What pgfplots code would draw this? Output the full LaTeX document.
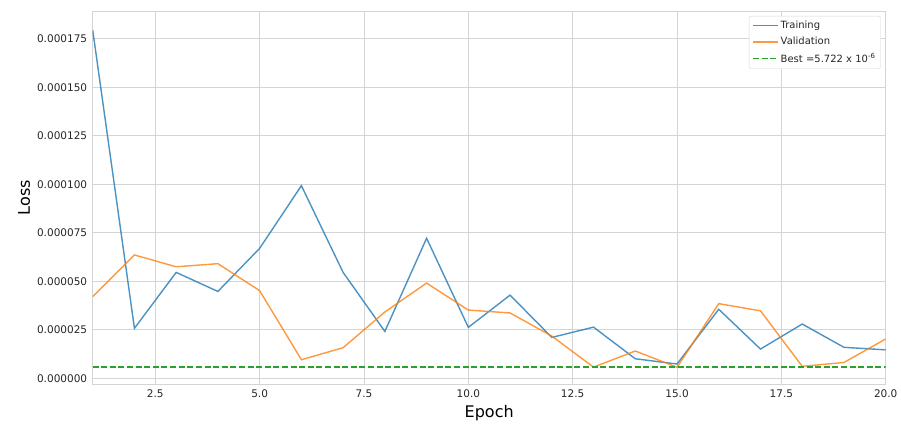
\documentclass[border=0pt]{standalone}
\usepackage{pgfplots}
\pgfplotsset{compat=1.18}
\usepackage{fontspec}
\setmainfont{DejaVu Sans}
\definecolor{tabblue}{HTML}{1F77B4}
\definecolor{taborange}{HTML}{FF7F0E}
\definecolor{tabgreen}{HTML}{2CA02C}
\definecolor{gridgray}{HTML}{D5D5D5}
\definecolor{txt}{HTML}{262626}
\begin{document}
\begin{tikzpicture}
\path[use as bounding box] (-92.7pt,-44pt) rectangle (808.3pt,384pt);
\begin{axis}[
  scale only axis, width=793pt, height=373pt,
  xmin=1, xmax=20, ymin=-2.9e-6, ymax=189.3e-6,
  xtick={2.5,5,7.5,10,12.5,15,17.5,20},
  xticklabels={2.5,5.0,7.5,10.0,12.5,15.0,17.5,20.0},
  ytick={0,2.5e-5,5e-5,7.5e-5,1e-4,1.25e-4,1.5e-4,1.75e-4},
  yticklabels={0.000000,0.000025,0.000050,0.000075,0.000100,0.000125,0.000150,0.000175},
  scaled y ticks=false, scaled x ticks=false,
  grid=major, major grid style={gridgray, line width=0.9pt},
  axis line style={gridgray, line width=0.9pt},
  tick style={draw=none},
  ticklabel style={font=\fontsize{10.5}{12}\selectfont, text=txt},
  xticklabel style={yshift=-2pt},
  yticklabel style={xshift=-2pt},
  xlabel={Epoch}, ylabel={Loss},
  xlabel style={yshift=-1pt},
  label style={font=\fontsize{16}{18}\selectfont, text=black},
  legend style={at={(1,1)}, anchor=north east, xshift=-5pt, yshift=-5pt,
    draw=gridgray, rounded corners=2pt, font=\fontsize{10}{12}\selectfont,
    text=txt, row sep=3pt, inner sep=3pt},
  legend cell align=left,
  legend image code/.code={\draw[#1] (0pt,0pt) -- (25pt,0pt);},
]
\addplot[color=tabblue, draw=tabblue, draw opacity=0.8, line width=1.4pt] coordinates {
(1,179.5e-6) (2,25.8e-6) (3,54.6e-6) (4,44.8e-6) (5,67.0e-6)
(6,99.3e-6) (7,54.6e-6) (8,24.2e-6) (9,72.2e-6) (10,26.3e-6)
(11,42.9e-6) (12,21.1e-6) (13,26.4e-6) (14,10.1e-6) (15,7.4e-6)
(16,35.6e-6) (17,15.1e-6) (18,28.0e-6) (19,16.0e-6) (20,14.7e-6)};
\addlegendentry{Training}
\addplot[color=taborange, draw=taborange, draw opacity=0.8, line width=1.4pt] coordinates {
(1,42.1e-6) (2,63.6e-6) (3,57.5e-6) (4,59.1e-6) (5,45.2e-6)
(6,9.6e-6) (7,15.8e-6) (8,34.2e-6) (9,49.1e-6) (10,35.2e-6)
(11,33.7e-6) (12,21.8e-6) (13,5.8e-6) (14,14.1e-6) (15,5.722e-6)
(16,38.5e-6) (17,34.8e-6) (18,6.2e-6) (19,8.2e-6) (20,20.3e-6)};
\addlegendentry{Validation}
\addplot[color=tabgreen, draw=tabgreen, line width=1.6pt, dash pattern=on 6pt off 2.6pt] coordinates {
(1,5.722e-6) (20,5.722e-6)};
\addlegendentry{Best =5.722 x 10\textsuperscript{-6}}
\end{axis}
\end{tikzpicture}
\end{document}
